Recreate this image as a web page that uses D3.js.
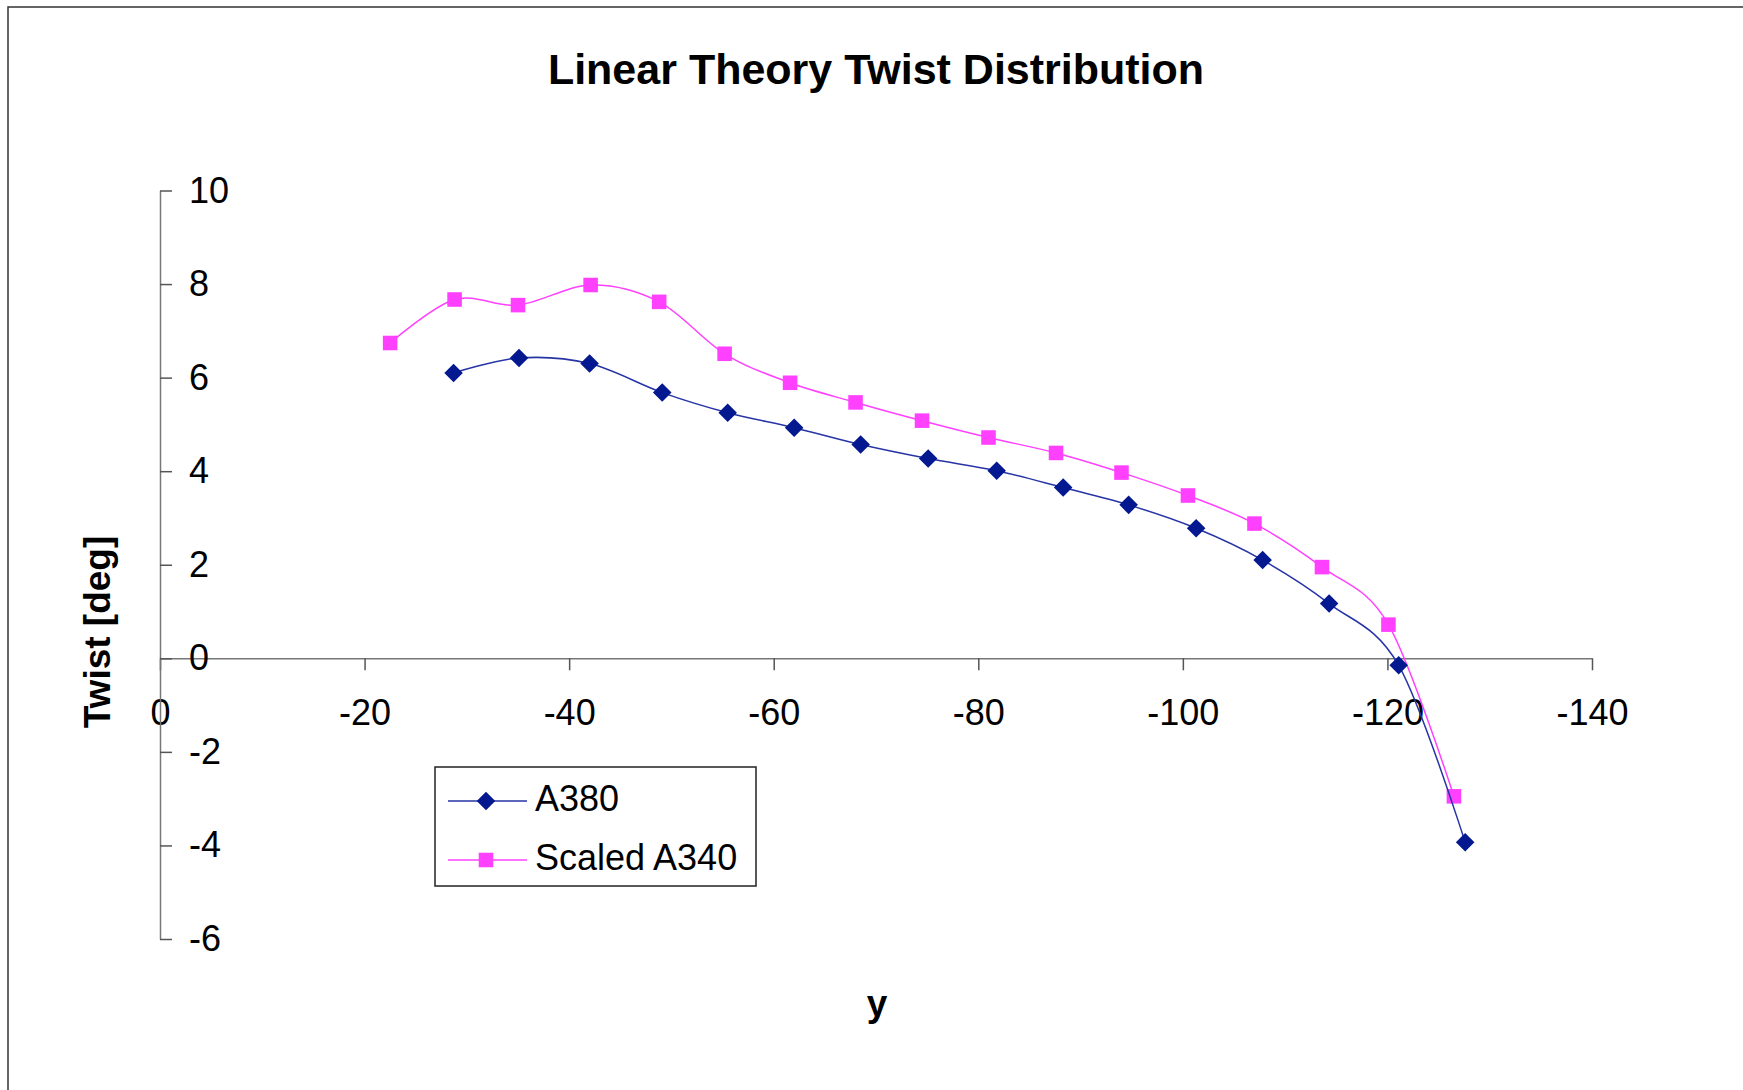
<!DOCTYPE html>
<html>
<head>
<meta charset="utf-8">
<script src="https://cdn.jsdelivr.net/npm/d3@7"></script>
<style>
  html, body { margin: 0; padding: 0; background: #fff; }
  svg { display: block; font-family: Arial, "Liberation Sans", sans-serif; }
</style>
</head>
<body>
<svg id="chart" width="1743" height="1090"></svg>
<script>
/* data */
const a380Span = [-28.7, -35.1, -42.0, -49.1, -55.5, -62.0, -68.5, -75.1, -81.8, -88.3,
  -94.7, -101.3, -107.8, -114.3, -121.1, -127.6];
const a380Twist = [6.10, 6.42, 6.30, 5.68, 5.25, 4.93, 4.57, 4.27, 4.01, 3.65,
  3.28, 2.78, 2.10, 1.17, -0.15, -3.93];
const a340Span = [-22.5, -28.8, -35.0, -42.1, -48.8, -55.2, -61.6, -68.0, -74.5, -81.0,
  -87.6, -94.0, -100.5, -107.0, -113.6, -120.1, -126.5];
const a340Twist = [6.74, 7.67, 7.55, 7.98, 7.62, 6.51, 5.89, 5.47, 5.08, 4.72,
  4.39, 3.97, 3.48, 2.88, 1.95, 0.72, -2.95];
const seriesNames = ['A380', 'Scaled A340'];
const xTicks = [0, -20, -40, -60, -80, -100, -120, -140];
const yTicks = [10, 8, 6, 4, 2, 0, -2, -4, -6];

const svg = d3.select('#chart');

/* outer chart frame (only top and left edges are visible) */
svg.append('path')
  .attr('d', 'M8,1090V7H1743')
  .attr('fill', 'none')
  .attr('stroke', '#333')
  .attr('stroke-width', 1.5);

/* scales */
const x = d3.scaleLinear().domain([0, -140]).range([160, 1592]);
const y = d3.scaleLinear().domain([10, -6]).range([190.5, 939]);

/* plain hyphen minus, like the original */
const plain = (d) => String(d);

/* title */
svg.append('text')
  .attr('x', 876)
  .attr('y', 84)
  .attr('text-anchor', 'middle')
  .attr('font-size', 43)
  .attr('font-weight', 'bold')
  .text('Linear Theory Twist Distribution');

/* x axis sits on y = 0, ticks point down */
const xAxis = svg.append('g')
  .attr('transform', `translate(0,${y(0)})`)
  .call(d3.axisBottom(x).tickValues(xTicks).tickSizeInner(12).tickSizeOuter(0).tickPadding(0)
    .tickFormat(plain));
xAxis.select('.domain').attr('stroke', '#777').attr('stroke-width', 1.5);
xAxis.selectAll('.tick line').attr('stroke', '#555').attr('stroke-width', 1.5);
xAxis.selectAll('.tick text')
  .attr('y', 67)
  .attr('dy', 0)
  .attr('font-size', 36)
  .attr('fill', '#000');

/* y axis at x = 0, ticks and labels to its right */
const yAxis = svg.append('g')
  .attr('transform', `translate(${x(0)},0)`)
  .call(d3.axisRight(y).tickValues(yTicks).tickSizeInner(12).tickSizeOuter(0).tickPadding(17)
    .tickFormat(plain));
yAxis.select('.domain').attr('stroke', '#777').attr('stroke-width', 1.5);
yAxis.selectAll('.tick line').attr('stroke', '#555').attr('stroke-width', 1.5);
yAxis.selectAll('.tick text')
  .attr('font-size', 36)
  .attr('fill', '#000');

/* axis titles */
svg.append('text')
  .attr('transform', 'translate(110,632) rotate(-90)')
  .attr('text-anchor', 'middle')
  .attr('font-size', 37)
  .attr('font-weight', 'bold')
  .text('Twist [deg]');
svg.append('text')
  .attr('x', 877)
  .attr('y', 1016)
  .attr('text-anchor', 'middle')
  .attr('font-size', 37)
  .attr('font-weight', 'bold')
  .text('y');

/* series */
const series = [
  {
    name: seriesNames[0],
    points: a380Span.map((s, i) => [s, a380Twist[i]]),
    line: '#2634a6',
    fill: '#041890',
    symbol: d3.symbolSquare,
    area: 172,
    rotate: 45,
  },
  {
    name: seriesNames[1],
    points: a340Span.map((s, i) => [s, a340Twist[i]]),
    line: '#ff40ff',
    fill: '#ff40ff',
    symbol: d3.symbolSquare,
    area: 212,
    rotate: 0,
  },
];

const line = d3.line()
  .x((d) => x(d[0]))
  .y((d) => y(d[1]))
  .curve(d3.curveCardinal.tension(0));

series.slice().reverse().forEach((s) => {
  const g = svg.append('g').attr('class', 'series');
  g.append('path')
    .attr('d', line(s.points))
    .attr('fill', 'none')
    .attr('stroke', s.line)
    .attr('stroke-width', 1.5);
  g.selectAll('path.marker')
    .data(s.points)
    .join('path')
    .attr('class', 'marker')
    .attr('d', d3.symbol(s.symbol, s.area))
    .attr('transform', (d) => `translate(${x(d[0])},${y(d[1])}) rotate(${s.rotate})`)
    .attr('fill', s.fill);
});

/* legend */
const legend = svg.append('g').attr('transform', 'translate(435,767)');
legend.append('rect')
  .attr('width', 321)
  .attr('height', 119)
  .attr('fill', '#fff')
  .attr('stroke', '#222')
  .attr('stroke-width', 1.5);
series.forEach((s, i) => {
  const ly = 34 + i * 59;
  legend.append('line')
    .attr('x1', 13).attr('x2', 92)
    .attr('y1', ly).attr('y2', ly)
    .attr('stroke', s.line)
    .attr('stroke-width', 1.5);
  legend.append('path')
    .attr('d', d3.symbol(s.symbol, s.area))
    .attr('transform', `translate(51,${ly}) rotate(${s.rotate})`)
    .attr('fill', s.fill);
  legend.append('text')
    .attr('x', 100)
    .attr('y', ly - 3)
    .attr('dy', '0.35em')
    .attr('font-size', 36)
    .text(s.name);
});
</script>
</body>
</html>
